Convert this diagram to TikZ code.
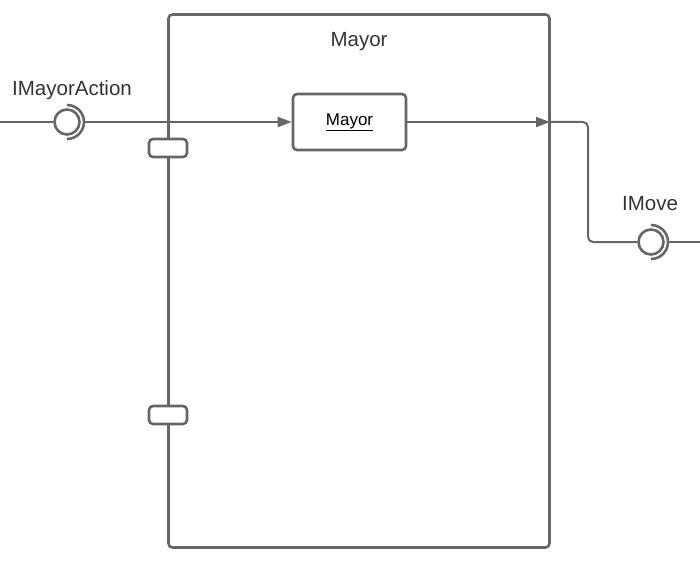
\documentclass[tikz,border=0pt]{standalone}
\usepackage{fontspec}
\setmainfont{Liberation Sans}
\usetikzlibrary{arrows.meta,calc}
\definecolor{ln}{HTML}{666666}
\definecolor{tx}{HTML}{333333}
\tikzset{
  border/.style={draw=ln, line width=2.6pt, rounded corners=4pt},
  conn/.style={draw=ln, line width=2pt},
  arr/.style={conn, -{Triangle[length=14pt,width=10pt]}},
  portbox/.style={draw=ln, line width=2.6pt, rounded corners=4pt, fill=white, minimum width=38pt, minimum height=18pt, inner sep=0pt},
  ball/.style={circle, draw=ln, line width=2.6pt, minimum size=25pt, inner sep=0pt},
  lbl/.style={text=tx, font=\fontsize{20.5}{24}\selectfont, inner sep=0pt},
  comp/.style={draw=ln, line width=2.6pt, rounded corners=4pt, minimum width=113pt, minimum height=56pt, font=\fontsize{17}{20}\selectfont, inner sep=0pt}
}
\begin{document}
\begin{tikzpicture}[x=1pt,y=-1pt]
\useasboundingbox (0,0) rectangle (700,577);
% outer component
\node[border, minimum width=381pt, minimum height=533pt, inner sep=0pt] (outer) at (359,281) {};
\node[lbl] (title) at (359,42) {Mayor};
% inner component
\node[comp] (mayor) at (349.5,122) {\underline{Mayor}};
% ports
\node[portbox] (p1) at (168,148) {};
\node[portbox] (p2) at (168,415) {};
% left interface
\coordinate (L) at (0,122);
\node[ball] (b1) at (67,122) {};
\draw[ln, line width=2.6pt] ($(b1.center)+(0pt,-17pt)$) arc[start angle=-90, end angle=90, radius=17pt];
\coordinate (s1) at (84,122);
\node[lbl] (t1) at (72,90) {IMayorAction};
\draw[conn] (L) -- (b1.west);
\draw[arr] (s1) -- (mayor.west);
% right interface
\coordinate (R) at (550,122);
\coordinate (E) at (700,242);
\node[ball] (b2) at (651,242) {};
\draw[ln, line width=2.6pt] ($(b2.center)+(0pt,-17pt)$) arc[start angle=-90, end angle=90, radius=17pt];
\coordinate (s2) at (668,242);
\node[lbl] (t2) at (650,204) {IMove};
\draw[arr] (mayor.east) -- (R);
\draw[conn, rounded corners=5pt] (R) -- (588,122) -- (588,242) -- (b2.west);
\draw[conn] (s2) -- (E);
\end{tikzpicture}
\end{document}
